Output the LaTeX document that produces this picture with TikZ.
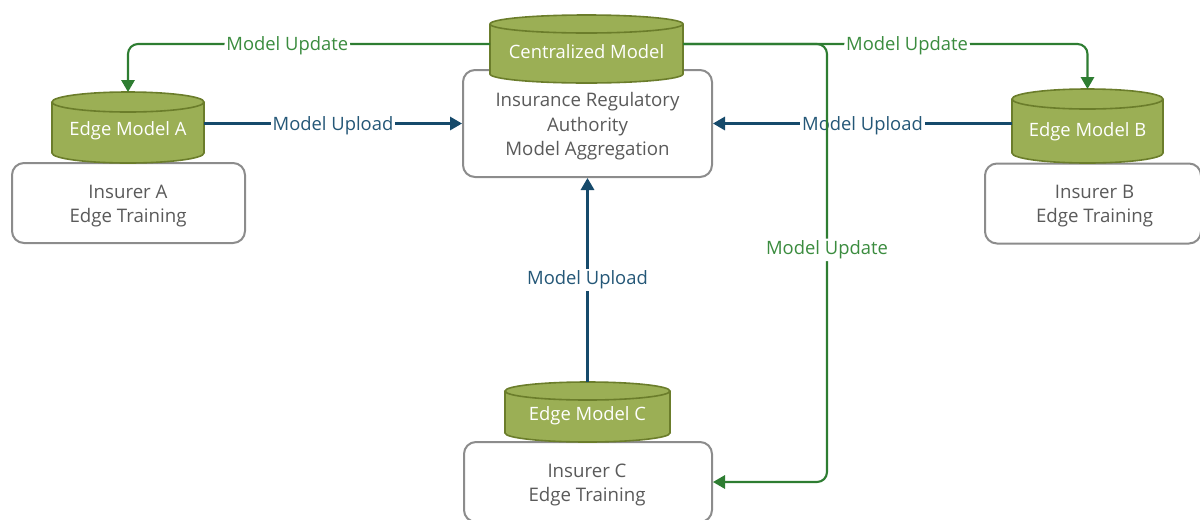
\documentclass[tikz,border=0pt]{standalone}
\usepackage{fontspec}
\setmainfont{Open Sans}
\usetikzlibrary{arrows.meta}
\definecolor{cylfill}{HTML}{9BAF55}
\definecolor{cylline}{HTML}{6B7D2B}
\definecolor{boxgray}{HTML}{8C8C8C}
\definecolor{boxtext}{HTML}{5A5A5A}
\definecolor{updgreen}{HTML}{2E7D32}
\definecolor{updtext}{HTML}{3B8C3F}
\definecolor{uplblue}{HTML}{164A6B}
\definecolor{upltext}{HTML}{245777}
\newcommand\mkcyl[8]{% name, cx, ytop, ybot, rx, ry, textY, text
  \fill[cylfill,draw=cylline,line width=1.2pt] (#2,#4) ellipse [x radius=#5*0.75pt, y radius=#6*0.75pt];
  \fill[cylfill] (#2-#5,#3) rectangle (#2+#5,#4);
  \draw[cylline,line width=1.2pt] (#2-#5,#3) -- (#2-#5,#4) (#2+#5,#3) -- (#2+#5,#4);
  \filldraw[fill=cylfill,draw=cylline,line width=1.2pt] (#2,#3) ellipse [x radius=#5*0.75pt, y radius=#6*0.75pt];
  \node[cylshape, minimum width=2*#5*0.75pt, minimum height=(#4-#3+2*#6)*0.75pt] (#1) at (#2,{(#3+#4)/2}) {};
  \node[cyltext] (#1-t) at (#2,#7) {#8};
}
\begin{document}
\begin{tikzpicture}[x=0.75pt,y=-0.75pt,
  every node/.style={font=\fontsize{13.8pt}{18.4pt}\selectfont},
  box/.style={draw=boxgray, line width=1.5pt, rounded corners=9pt, fill=white, inner sep=0pt},
  boxtxt/.style={align=center, text=boxtext, inner sep=0pt, font=\fontsize{14pt}{18.4pt}\selectfont},
  cylshape/.style={inner sep=0pt, outer sep=0pt},
  cyltext/.style={text=white, inner sep=0pt},
  upd/.style={draw=updgreen, line width=1.6pt, rounded corners=7.5pt, -{Triangle[length=9pt,width=10pt]}},
  updlbl/.style={fill=white, text=updtext, inner sep=1.5pt},
  upl/.style={draw=uplblue, line width=1.6pt, -{Triangle[length=9pt,width=10pt]}},
  upllbl/.style={fill=white, text=upltext, inner sep=1.5pt}]
\useasboundingbox (0,0) rectangle (1200,519);
\clip (0,0) rectangle (1200,519);
% boxes
\node[box, minimum width=249*0.75pt, minimum height=107*0.75pt] (irb) at (587.5,123.5) {};
\node[boxtxt] (irb-t) at (587.5,126.5) {Insurance Regulatory\\Authority\\Model Aggregation};
\node[box, minimum width=233*0.75pt, minimum height=80*0.75pt] (ia) at (128.5,203) {};
\node[boxtxt] (ia-t) at (128,206) {Insurer A\\Edge Training};
\node[box, minimum width=216*0.75pt, minimum height=80*0.75pt] (ib) at (1093,203.5) {};
\node[boxtxt] (ib-t) at (1094.5,206) {Insurer B\\Edge Training};
\node[box, minimum width=248*0.75pt, minimum height=80*0.75pt] (ic) at (588,482) {};
\node[boxtxt] (ic-t) at (587,485) {Insurer C\\Edge Training};
% cylinders
\mkcyl{cm}{586.5}{24}{74}{96.5}{9}{52}{Centralized Model}
\mkcyl{ema}{128}{102}{153}{76}{10}{131}{Edge Model A}
\mkcyl{emb}{1087.5}{99}{153}{75.5}{10}{132}{Edge Model B}
\mkcyl{emc}{587.5}{391}{433}{82.5}{9}{416}{Edge Model C}
% uploads
\draw[upl] (irb.west -| ema.east) -- node[upllbl, yshift=-1.5pt]{Model Upload} (irb.west);
\draw[upl] (irb.east -| emb.west) -- node[upllbl, yshift=-1.5pt]{Model Upload} (irb.east);
\draw[upl] (emc.north) -- node[upllbl]{Model Upload} (irb.south);
% updates
\coordinate (turn) at (827,44);
\draw[upd] ([yshift=3.75pt]cm.west) -| node[pos=0.28, updlbl, yshift=-1.5pt]{Model Update} (ema.north);
\draw[upd] ([yshift=3.75pt]cm.east) -| node[pos=0.277, updlbl, yshift=-1.5pt]{Model Update} (emb.north);
\draw[upd] ([yshift=3.75pt]cm.east) -- (turn) |- node[pos=0.235, updlbl]{Model Update} (ic.east);
\end{tikzpicture}
\end{document}
